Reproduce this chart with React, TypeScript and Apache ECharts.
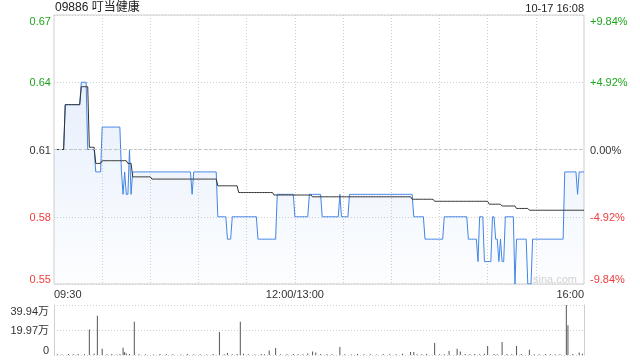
import { useEffect, useRef } from "react";
import * as echarts from "echarts";

const FONT = 'Arial, "Liberation Sans", "Noto Sans CJK SC", sans-serif';

const TITLE = "09886 叮当健康";
const STAMP = "10-17 16:08";
const WATERMARK = "sina.com";
const PREV_CLOSE = 0.61;
const PRICE_LABELS = ["0.55", "0.58", "0.61", "0.64", "0.67"];
const PCT_LABELS = ["-9.84%", "-4.92%", "0.00%", "+4.92%", "+9.84%"];
const VOL_LABELS = ["0", "19.97万", "39.94万"];
const VOL_MAX = 399400;
const X_LABELS: Record<number, string> = { 0: "09:30", 150: "12:00/13:00", 330: "16:00" };

// [first minute index, price] — each price holds until the next entry
const priceSteps: [number, number][] = [
  [0, 0.61], [7, 0.63], [17, 0.64], [21, 0.61], [26, 0.6], [30, 0.62], [42, 0.6], [43, 0.59],
  [44, 0.6], [45, 0.59], [47, 0.61], [48, 0.59], [49, 0.6], [86, 0.59], [87, 0.6], [102, 0.58],
  [108, 0.57], [111, 0.58], [127, 0.57], [139, 0.59], [150, 0.58], [159, 0.59], [167, 0.58],
  [178, 0.59], [179, 0.58], [184, 0.59], [224, 0.58], [231, 0.57], [243, 0.58], [258, 0.57],
  [264, 0.56], [265, 0.58], [268, 0.56], [273, 0.58], [275, 0.57], [277, 0.56], [278, 0.57],
  [279, 0.56], [281, 0.58], [287, 0.55], [288, 0.57], [295, 0.55], [298, 0.57], [318, 0.6],
  [326, 0.59], [327, 0.6],
];

// [first minute index, average price]
const avgSteps: [number, number][] = [
  [0, 0.61], [7, 0.63], [17, 0.638], [22, 0.611], [26, 0.6038], [30, 0.605], [46, 0.6038],
  [49, 0.5978], [61, 0.5968], [102, 0.5938], [115, 0.5908], [137, 0.5897], [161, 0.5889],
  [223, 0.5878], [237, 0.5869], [271, 0.5856], [279, 0.5848], [288, 0.5837], [296, 0.5829],
];

// [minute index, volume in shares]
const volumeBig: [number, number][] = [
  [22, 203000], [27, 313000], [30, 50000], [43, 58000], [44, 23000], [45, 12000], [50, 265000],
  [103, 184000], [108, 15000], [116, 265000], [118, 10000], [134, 36000], [138, 55000],
  [158, 12000], [161, 28000], [163, 20000], [178, 63000], [222, 24000], [224, 24000],
  [237, 95000], [246, 32000], [251, 50000], [253, 28000], [270, 71000], [279, 103000],
  [288, 71000], [296, 42000], [319, 399400], [320, 238000], [327, 20000], [329, 10000],
];

const volumeSmall: [number, number][] = [
  [2, 6000], [5, 4000], [9, 8000], [12, 5000], [15, 7000], [19, 6000], [25, 9000], [33, 5000],
  [36, 7000], [39, 4000], [41, 6000], [47, 8000], [53, 5000], [57, 6000], [62, 4000], [66, 7000],
  [70, 5000], [74, 6000], [79, 4000], [83, 7000], [87, 5000], [91, 6000], [95, 4000], [99, 8000],
  [106, 6000], [111, 5000], [114, 7000], [121, 6000], [125, 4000], [129, 8000], [131, 5000],
  [141, 6000], [145, 5000], [149, 7000], [152, 6000], [155, 5000], [166, 8000], [170, 6000],
  [173, 5000], [181, 6000], [185, 4000], [189, 7000], [193, 5000], [197, 6000], [201, 4000],
  [205, 7000], [209, 5000], [213, 6000], [217, 9000], [226, 6000], [229, 5000], [232, 7000],
  [240, 6000], [243, 5000], [256, 7000], [259, 6000], [262, 8000], [265, 6000], [268, 9000],
  [274, 7000], [276, 6000], [282, 8000], [285, 6000], [291, 7000], [299, 6000], [302, 5000],
  [306, 7000], [309, 6000], [312, 5000], [315, 6000], [323, 8000],
];

const N = 331;

function pad(n: number) {
  return n < 10 ? "0" + n : String(n);
}
function fmt(m: number) {
  return pad(Math.floor(m / 60)) + ":" + pad(m % 60);
}
const times: string[] = [];
for (let m = 9 * 60 + 30; m <= 12 * 60; m++) times.push(fmt(m));
for (let m = 13 * 60 + 1; m <= 16 * 60; m++) times.push(fmt(m));

function expandSteps(steps: [number, number][]) {
  const out: number[] = [];
  for (let s = 0; s < steps.length; s++) {
    const end = s + 1 < steps.length ? steps[s + 1][0] : N;
    for (let i = steps[s][0]; i < end; i++) out.push(steps[s][1]);
  }
  return out;
}

// offsets in thousandths from previous close -> integer axis ticks
const toOffset = (p: number) => (p - PREV_CLOSE) * 1000;

const GREEN = "#1ea51e";
const RED = "#f03c3c";
const DARK = "#333";

export default function App() {
  const ref = useRef<HTMLDivElement>(null);
  useEffect(() => {
    if (!ref.current) return;
    const chart = echarts.init(ref.current, undefined, { renderer: "svg" });

    const priceData = expandSteps(priceSteps).map(toOffset);
    const avgData = expandSteps(avgSteps).map(toOffset);
    const volData: number[] = new Array(N).fill(0);
    volumeSmall.forEach(([i, v]) => (volData[i] = v));
    volumeBig.forEach(([i, v]) => (volData[i] = v));

    const colorFor = (v: any) => {
      const n = Number(v);
      return n > 0.001 ? GREEN : n < -0.001 ? RED : DARK;
    };
    const lblIdx = (v: any) => Math.round((Number(v) + 60) / 30);

    const option: any = {
      animation: false,
      textStyle: { fontFamily: FONT },
      grid: [
        { left: 54, top: 15, width: 530, height: 269, show: true, borderColor: "#cfcfcf", borderWidth: 1 },
        { left: 54, top: 305, width: 530, height: 50 },
      ],
      xAxis: [
        {
          type: "category",
          gridIndex: 0,
          data: times,
          boundaryGap: false,
          axisLine: { show: false },
          axisTick: { show: false },
          axisLabel: {
            interval: (i: number) => X_LABELS[i] !== undefined,
            formatter: (_v: string, i: number) => X_LABELS[i] ?? "",
            color: DARK,
            fontSize: 11,
            fontFamily: FONT,
            margin: 4,
            alignMinLabel: "left",
            alignMaxLabel: "right",
          },
          splitLine: {
            show: true,
            interval: (i: number) => i % 30 === 0 && i > 0 && i < N - 1,
            lineStyle: { color: "#cfcfcf", type: [1, 2], width: 1 },
          },
        },
        {
          type: "category",
          gridIndex: 1,
          data: times,
          boundaryGap: false,
          axisLine: { show: false },
          axisTick: { show: false },
          axisLabel: { show: false },
          splitLine: { show: false },
        },
      ],
      yAxis: [
        {
          type: "value",
          gridIndex: 0,
          min: -60,
          max: 60,
          interval: 30,
          axisLine: { show: false },
          axisTick: { show: false },
          axisLabel: {
            formatter: (v: number) => PRICE_LABELS[lblIdx(v)],
            color: colorFor,
            fontSize: 11,
            fontFamily: FONT,
            margin: 3,
            verticalAlignMinLabel: "bottom",
            verticalAlignMaxLabel: "top",
          },
          splitLine: { show: true, lineStyle: { color: "#cfcfcf", type: [1, 2], width: 1 } },
        },
        {
          type: "value",
          gridIndex: 0,
          position: "right",
          min: -60,
          max: 60,
          interval: 30,
          axisLine: { show: false },
          axisTick: { show: false },
          axisLabel: {
            formatter: (v: number) => PCT_LABELS[lblIdx(v)],
            color: colorFor,
            fontSize: 11,
            fontFamily: FONT,
            margin: 6,
            verticalAlignMinLabel: "bottom",
            verticalAlignMaxLabel: "top",
          },
          splitLine: { show: false },
        },
        {
          type: "value",
          gridIndex: 1,
          min: 0,
          max: VOL_MAX,
          interval: VOL_MAX / 2,
          axisLine: { show: true, lineStyle: { color: "#cfcfcf" } },
          axisTick: { show: false },
          axisLabel: {
            formatter: (v: number) => VOL_LABELS[Math.round(v / (VOL_MAX / 2))],
            color: DARK,
            fontSize: 11,
            fontFamily: FONT,
            margin: 5,
            verticalAlignMinLabel: "bottom",
            verticalAlignMaxLabel: "top",
          },
          splitLine: { show: true, lineStyle: { color: "#cfcfcf", type: [1, 2], width: 1 } },
        },
        {
          type: "value",
          gridIndex: 1,
          position: "right",
          min: 0,
          max: VOL_MAX,
          interval: VOL_MAX / 2,
          axisLine: { show: true, lineStyle: { color: "#cfcfcf" } },
          axisTick: { show: false },
          axisLabel: { show: false },
          splitLine: { show: false },
        },
      ],
      series: [
        {
          type: "line",
          xAxisIndex: 0,
          yAxisIndex: 0,
          data: priceData,
          symbol: "none",
          lineStyle: { color: "#4285e4", width: 1 },
          areaStyle: {
            origin: "start",
            color: new echarts.graphic.LinearGradient(0, 0, 0, 1, [
              { offset: 0, color: "rgba(66,133,228,0.18)" },
              { offset: 1, color: "rgba(66,133,228,0.02)" },
            ]),
          },
          markLine: {
            silent: true,
            symbol: ["none", "none"],
            label: { show: false },
            lineStyle: { color: "#c4c4c4", type: [3, 2], width: 1 },
            data: [{ yAxis: 0 }],
          },
          z: 3,
        },
        {
          type: "line",
          xAxisIndex: 0,
          yAxisIndex: 0,
          data: avgData,
          symbol: "none",
          lineStyle: { color: "#333", width: 1 },
          z: 4,
        },
        {
          type: "bar",
          xAxisIndex: 1,
          yAxisIndex: 2,
          data: volData,
          barWidth: 1,
          itemStyle: { color: "#555" },
        },
      ],
      graphic: [
        {
          type: "text",
          left: 55,
          top: 1,
          style: { text: TITLE, font: `12px ${FONT}`, fill: "#222" },
        },
        {
          type: "text",
          right: 56,
          top: 2,
          style: { text: STAMP, font: `11px ${FONT}`, fill: "#222" },
        },
        {
          type: "text",
          left: 533,
          top: 273,
          z: 1,
          style: { text: WATERMARK, font: `11px ${FONT}`, fill: "#d3d3d3" },
        },
      ],
    };
    chart.setOption(option);
    return () => chart.dispose();
  }, []);
  return (
    <div
      ref={ref}
      style={{ position: "fixed", left: 0, top: 0, width: 640, height: 360 }}
    />
  );
}
